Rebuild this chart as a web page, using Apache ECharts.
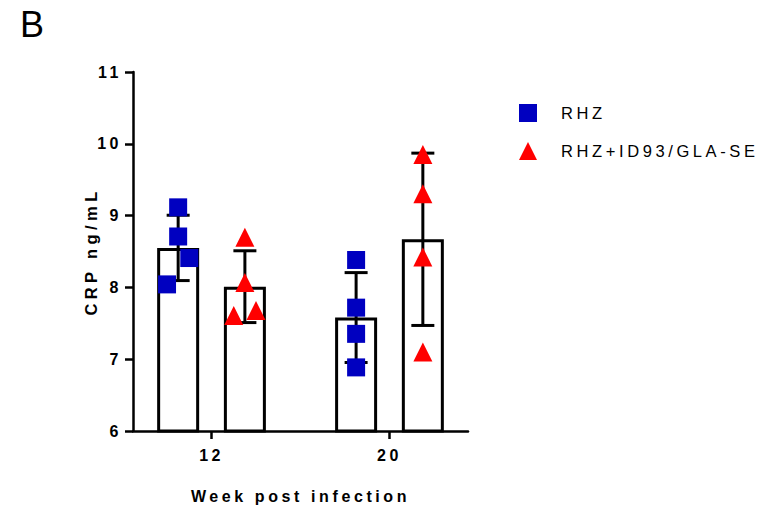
<!DOCTYPE html>
<html>
<head>
<meta charset="utf-8">
<script src="https://cdn.jsdelivr.net/npm/echarts@6/dist/echarts.min.js"></script>
<style>
html,body{margin:0;padding:0;background:#fff;}
#chart{width:762px;height:509px;}
</style>
</head>
<body>
<div id="chart"></div>
<script>
// ---- data ----
const weeks = [12, 20];
const weekLabels = ['12', '20'];
const seriesNames = ['RHZ', 'RHZ+ID93/GLA-SE'];
const rhzMean = [8.55, 7.58];
const rhzSD = [0.455, 0.626];
const id93Mean = [8.01, 8.67];
const id93SD = [0.50, 1.20];
const rhzPoints = [[9.115, 8.709, 8.409, 8.042], [8.382, 7.718, 7.353, 6.886]];
const id93Points = [[8.698, 8.068, 7.609, 7.679], [9.85, 9.306, 8.424, 7.099]];
const yTicks = [6, 7, 8, 9, 10, 11];

// ---- layout (not data) ----
const groupOffset = 1.5;
const rhzJitter = [[0, 0, 0.5, -0.5], [0, 0, 0, 0]];
const id93Jitter = [[0, 0, -0.5, 0.5], [0, 0, 0, 0]];
const FONT = 'Liberation Sans, Arial, sans-serif';

const barData = [];
const errData = [];
weeks.forEach((w, i) => {
  barData.push([w - groupOffset, rhzMean[i]]);
  barData.push([w + groupOffset, id93Mean[i]]);
  errData.push([w - groupOffset, rhzMean[i], rhzSD[i]]);
  errData.push([w + groupOffset, id93Mean[i], id93SD[i]]);
});
const rhzScatter = [];
const id93Scatter = [];
weeks.forEach((w, i) => {
  rhzPoints[i].forEach((v, j) => rhzScatter.push([w - groupOffset + rhzJitter[i][j], v]));
  id93Points[i].forEach((v, j) => id93Scatter.push([w + groupOffset + id93Jitter[i][j], v]));
});

const chart = echarts.init(document.getElementById('chart'), null, {renderer: 'svg'});
const option = {
  animation: false,
  backgroundColor: '#fff',
  graphic: [{
    type: 'text', left: 20, top: 6,
    style: {text: 'B', font: '36px ' + FONT, fill: '#000'}
  }],
  legend: {
    orient: 'vertical', left: 519, top: 104, padding: 0,
    itemWidth: 18, itemHeight: 18, itemGap: 20,
    data: seriesNames,
    textStyle: {fontFamily: FONT, fontSize: 16.5, color: '#000', padding: [0, 0, 0, 19]}
  },
  grid: {left: 133, right: 294, top: 72, bottom: 76.5, containLabel: false},
  xAxis: {
    type: 'value', min: 8.47, max: 23.53,
    name: 'Week post infection', nameLocation: 'middle', nameGap: 57,
    nameTextStyle: {fontFamily: FONT, fontSize: 16, fontWeight: 'bold', color: '#000'},
    splitLine: {show: false},
    axisLine: {lineStyle: {color: '#000', width: 2.5}},
    axisTick: {show: true, length: 8, lineStyle: {color: '#000', width: 2.5}, customValues: weeks},
    axisLabel: {
      customValues: weeks, margin: 16,
      formatter: v => weekLabels[weeks.indexOf(v)] || '',
      fontFamily: FONT, fontSize: 16, fontWeight: 'bold', color: '#000'
    }
  },
  yAxis: {
    type: 'value', min: 6, max: 11, interval: 1,
    name: 'CRP ng/mL', nameLocation: 'middle', nameGap: 34,
    nameTextStyle: {fontFamily: FONT, fontSize: 16.5, fontWeight: 'bold', color: '#000'},
    splitLine: {show: false},
    axisLine: {show: true, lineStyle: {color: '#000', width: 2.5}},
    axisTick: {show: true, length: 8, lineStyle: {color: '#000', width: 2.5}},
    axisLabel: {
      margin: 11, fontFamily: FONT, fontSize: 16, fontWeight: 'bold', color: '#000',
      formatter: v => yTicks.indexOf(v) >= 0 ? String(v) : ''
    }
  },
  series: [
    {
      name: 'bars', type: 'bar', data: barData, barWidth: 42, z: 1,
      itemStyle: {color: '#fff', borderColor: '#000', borderWidth: 3},
      silent: true
    },
    {
      name: 'err', type: 'custom', data: errData, z: 2, silent: true,
      encode: {x: 0, y: 1},
      renderItem: function (params, api) {
        const x = api.value(0), m = api.value(1), s = api.value(2);
        const top = api.coord([x, m + s]);
        const bot = api.coord([x, m - s]);
        const half = 11.5;
        const st = {stroke: '#000', lineWidth: 3};
        return {
          type: 'group',
          children: [
            {type: 'line', shape: {x1: top[0], y1: top[1], x2: bot[0], y2: bot[1]}, style: st},
            {type: 'line', shape: {x1: top[0] - half, y1: top[1], x2: top[0] + half, y2: top[1]}, style: st},
            {type: 'line', shape: {x1: bot[0] - half, y1: bot[1], x2: bot[0] + half, y2: bot[1]}, style: st}
          ]
        };
      }
    },
    {
      name: seriesNames[0], type: 'scatter', data: rhzScatter, z: 3,
      symbol: 'rect', symbolSize: 18, itemStyle: {color: '#0000C0', opacity: 1}
    },
    {
      name: seriesNames[1], type: 'scatter', data: id93Scatter, z: 3,
      symbol: 'triangle', symbolSize: 19, itemStyle: {color: '#FF0000', opacity: 1}
    }
  ]
};
chart.setOption(option);

// letter spacing applied to the SVG text by its content
function spaceText() {
  const map = {
    'Week post infection': '3.6px',
    'CRP ng/mL': '4.4px',
    'RHZ': '3.6px',
    'RHZ+ID93/GLA-SE': '3.6px',
    'B': '0px'
  };
  document.querySelectorAll('#chart svg text').forEach(t => {
    const s = t.textContent;
    if (map[s] !== undefined) t.style.letterSpacing = map[s];
    else t.style.letterSpacing = '3.5px';
  });
}
spaceText();
chart.on('finished', spaceText);
</script>
</body>
</html>
